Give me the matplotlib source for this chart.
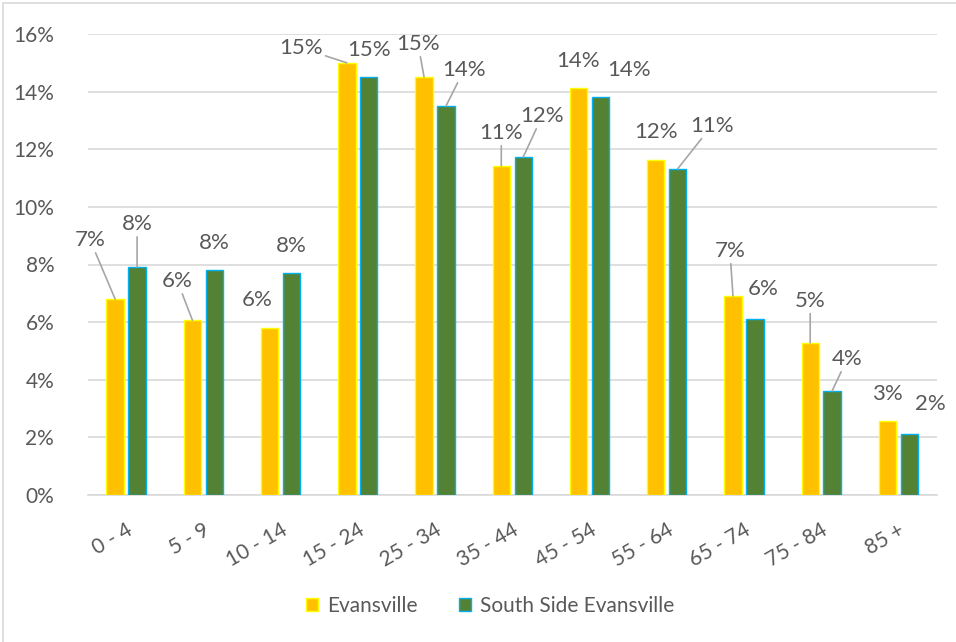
import numpy as np
import matplotlib
matplotlib.use("Agg")
import matplotlib.pyplot as plt
from matplotlib.patches import Rectangle

plt.rcParams['font.family'] = ['Lato', 'DejaVu Sans']

# 数据
ages = ['0 - 4', '5 - 9', '10 - 14', '15 - 24', '25 - 34', '35 - 44',
        '45 - 54', '55 - 64', '65 - 74', '75 - 84', '85 +']
evansville = [6.8, 6.07, 5.8, 15.0, 14.51, 11.42, 14.13, 11.63, 6.91, 5.28, 2.57]
south_side = [7.91, 7.81, 7.71, 14.51, 13.5, 11.73, 13.82, 11.32, 6.11, 3.61, 2.12]
y_ticks = [0, 2, 4, 6, 8, 10, 12, 14, 16]

# 数据标签位置（像素偏移）和引导线
ev_offsets = [(-25, 57), (-15, 37), (-12, 26), (-46, 13), (-6, 31), (0, 31),
              (0, 25), (0, 26), (-3, 43), (0, 40), (0, 25)]
ss_offsets = [(0, 41), (0, 25), (0, 25), (0, 25), (18, 34), (19, 39),
              (29, 25), (34, 41), (8, 28), (15, 30), (21, 28)]
ev_leader = [True, True, False, True, True, True, False, False, True, True, False]
ss_leader = [True, False, False, False, True, True, False, True, False, True, False]

text_color = '#595959'
grid_color = '#D9D9D9'

fig = plt.figure(figsize=(9.56, 6.42), dpi=100)
ax = fig.add_axes([87.5 / 956, 1 - 495 / 642, (937 - 87.5) / 956, (495 - 34) / 642])

x = np.arange(len(ages))
w = 0.225
b1 = ax.bar(x - 0.142, evansville, w, color='#FFC000', edgecolor='#FFFF00',
            linewidth=1, label='Evansville', zorder=3)
b2 = ax.bar(x + 0.142, south_side, w, color='#548235', edgecolor='#00B0F0',
            linewidth=1, label='South Side Evansville', zorder=3)

ax.set_ylim(0, 16)
ax.set_xlim(-0.5, len(ages) - 0.5)
ax.set_yticks(y_ticks)
ax.set_yticklabels([f'{v}%' for v in y_ticks])
ax.set_xticks(x)
ax.set_xticklabels(ages, rotation=30, ha='right', rotation_mode='anchor')
ax.tick_params(axis='y', length=0, pad=24, labelsize=15, labelcolor=text_color)
ax.tick_params(axis='x', length=0, pad=18, labelsize=15, labelcolor=text_color)
ax.grid(axis='y', color=grid_color, linewidth=1.2, zorder=0)
for s in ['top', 'right', 'left']:
    ax.spines[s].set_visible(False)
ax.spines['bottom'].set_color(grid_color)
ax.spines['bottom'].set_linewidth(1.2)


def add_labels(xs, vals, offsets, leaders):
    for xi, v, (dx, dy), ld in zip(xs, vals, offsets, leaders):
        props = None
        if ld:
            props = dict(arrowstyle='-', color='#A6A6A6', lw=1.2,
                         shrinkA=0, shrinkB=0)
        ax.annotate(f'{v:.0f}%', xy=(xi, v), xytext=(dx, dy + 2),
                    textcoords='offset pixels', ha='center', va='center',
                    fontsize=16, color=text_color, arrowprops=props,
                    zorder=5)


add_labels(x - 0.142, evansville, ev_offsets, ev_leader)
add_labels(x + 0.142, south_side, ss_offsets, ss_leader)

leg = fig.legend(handles=[b1, b2], loc='center', bbox_to_anchor=(490 / 956, 1 - 606 / 642),
                 ncol=2, frameon=False, fontsize=15, labelcolor=text_color,
                 handlelength=0.6, handleheight=0.6, handletextpad=0.4,
                 columnspacing=2.0)

# 图表外框
fig.patches.append(Rectangle((3 / 956, -0.1), 1.2, 1.1 - 3 / 642,
                             transform=fig.transFigure, fill=False,
                             edgecolor=grid_color, linewidth=1.2))

fig.savefig('out.png', dpi=100)
